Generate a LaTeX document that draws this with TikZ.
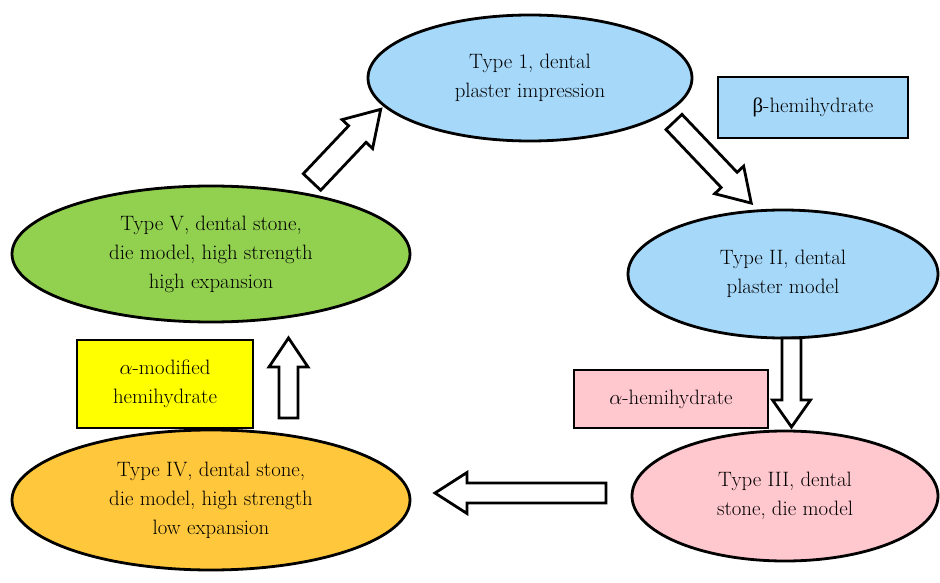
\documentclass[tikz,border=0pt]{standalone}
\usepackage{fontspec}
\newfontfamily\grk{Liberation Serif}
\usetikzlibrary{shapes.geometric}
\definecolor{lblue}{RGB}{166,216,250}
\definecolor{lpink}{RGB}{255,199,206}
\definecolor{lgreen}{RGB}{146,208,80}
\definecolor{lorange}{RGB}{255,200,60}
\definecolor{lyellow}{RGB}{255,255,0}
\tikzset{
  ell/.style={ellipse, draw=black, line width=2.8pt, align=center, inner sep=0pt,
     font=\fontsize{20.8}{29}\selectfont},
  lab/.style={rectangle, draw=black, line width=2.8pt, align=center, inner sep=0pt,
     font=\fontsize{20.8}{29}\selectfont},
  barrowstyle/.style={draw=black, fill=white, line width=2.8pt, line join=miter}
}
% #1 tail point, #2 angle, #3 length, #4 shaft width, #5 head width, #6 head length
\newcommand\blockarr[6]{%
  \begin{scope}[shift={#1}, rotate=#2]
    \draw[barrowstyle] (0,{-#4/2}) -- ({#3-#6},{-#4/2}) -- ({#3-#6},{-#5/2}) -- (#3,0)
      -- ({#3-#6},{#5/2}) -- ({#3-#6},{#4/2}) -- (0,{#4/2}) -- cycle;
  \end{scope}}
\begin{document}
\begin{tikzpicture}[x=1pt,y=1pt]
\useasboundingbox (0,0) rectangle (940,582);
% ellipses
\node[ell, fill=lblue, minimum width=324pt, minimum height=126pt] (t1) at (530,504)
  {Type 1, dental\\plaster impression};
\node[ell, fill=lblue, minimum width=310pt, minimum height=128pt] (t2) at (783,308)
  {Type II, dental\\plaster model};
\node[ell, fill=lpink, minimum width=306pt, minimum height=130pt] (t3) at (785,86)
  {Type III, dental\\stone, die model};
\node[ell, fill=lorange, minimum width=398pt, minimum height=140pt] (t4) at (211,82)
  {Type IV, dental stone,\\die model, high strength\\low expansion};
\node[ell, fill=lgreen, minimum width=398pt, minimum height=136pt] (t5) at (211,328)
  {Type V, dental stone,\\die model, high strength\\high expansion};
% labels
\node[lab, fill=lblue, minimum width=190pt, minimum height=61pt] (beta) at (813,474.5)
  {{\grk β}-hemihydrate};
\node[lab, fill=lpink, minimum width=194pt, minimum height=58pt] (alpha) at (671,183)
  {$\alpha$-hemihydrate};
\node[lab, fill=lyellow, minimum width=176pt, minimum height=88pt] (amod) at (165,198)
  {$\alpha$-modified\\hemihydrate};
% block arrows
\coordinate (a1) at (312,400);
\coordinate (a2) at (674,460);
\coordinate (a3) at (791.5,244);
\coordinate (a4) at (606,89);
\coordinate (a5) at (288.5,164);
\blockarr{(a1)}{46.6}{100}{24}{42}{34}
\blockarr{(a2)}{-46.4}{112}{22}{40}{32}
\blockarr{(a3)}{-90}{89}{19}{38}{27}
\blockarr{(a4)}{180}{171}{20}{41}{32}
\blockarr{(a5)}{90}{80}{19}{39}{29}
\end{tikzpicture}
\end{document}
